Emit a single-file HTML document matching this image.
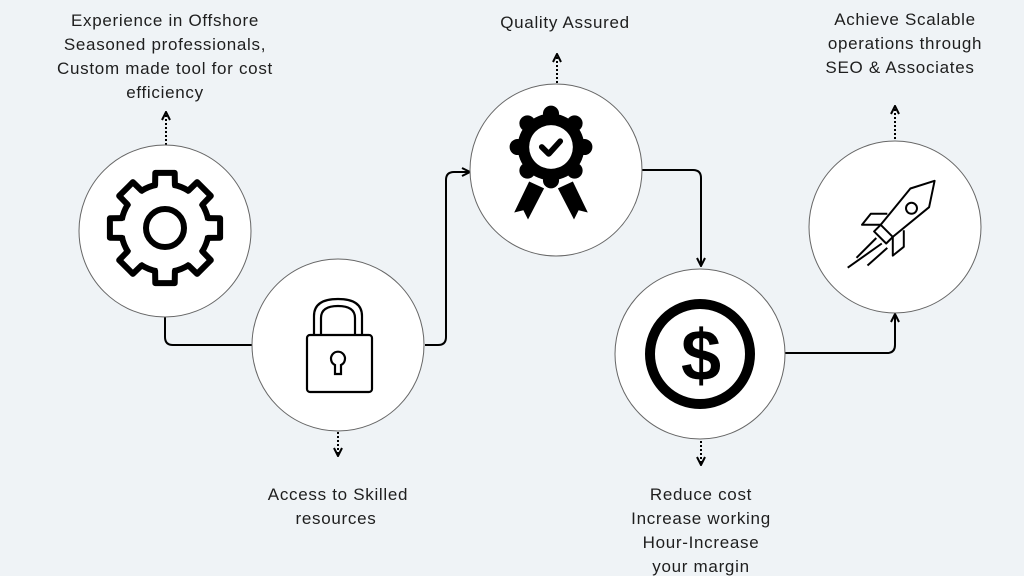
<!DOCTYPE html>
<html><head><style>
html,body{margin:0;padding:0;background:#eff3f6;}
svg{display:block;}
text{font-family:"Liberation Sans",sans-serif;font-size:17px;letter-spacing:0.7px;fill:#1e1e1e;text-anchor:middle;}
</style></head><body>
<svg width="1024" height="576" viewBox="0 0 1024 576">
<defs>
<marker id="ah" viewBox="0 0 10 10" refX="9" refY="5" markerWidth="5" markerHeight="5" orient="auto"><path d="M1,1 L9,5 L1,9" fill="none" stroke="#000" stroke-width="2"/></marker>
<g id="tooth">
<polygon points="39.3,-7.6 56.4,-7.9 56.4,7.9 39.3,7.6" fill="#fff"/>
<polyline points="42.9,-9.9 55.1,-9.7 55.1,9.7 42.9,9.9" fill="none" stroke="#000" stroke-width="6" stroke-linejoin="round" stroke-linecap="round"/>
</g>
</defs>
<rect width="1024" height="576" fill="#eff3f6"/>
<!-- connectors -->
<g fill="none" stroke="#000" stroke-width="2">
<path d="M165,316 V337 Q165,345 173,345 H253"/>
<path d="M425,345 H438 Q446,345 446,337 V180 Q446,172 454,172 H470" marker-end="url(#ah)"/>
<path d="M641,170 H693 Q701,170 701,178 V266" marker-end="url(#ah)"/>
<path d="M783,353 H887 Q895,353 895,345 V314" marker-end="url(#ah)"/>
</g>
<g fill="none" stroke="#000" stroke-width="2" stroke-dasharray="2,2">
<path d="M166,145 V112" marker-end="url(#ah)"/>
<path d="M338,432 V456" marker-end="url(#ah)"/>
<path d="M557,83 V54" marker-end="url(#ah)"/>
<path d="M701,441 V465" marker-end="url(#ah)"/>
<path d="M895,143 V106" marker-end="url(#ah)"/>
</g>
<!-- circles -->
<g fill="#fff" stroke="#666" stroke-width="1">
<circle cx="165" cy="231" r="86"/>
<circle cx="338" cy="345" r="86"/>
<circle cx="556" cy="170" r="86"/>
<circle cx="700" cy="354" r="85"/>
<circle cx="895" cy="227" r="86"/>
</g>
<!-- gear -->
<g transform="translate(165,228)">
<circle r="44" fill="none" stroke="#000" stroke-width="6"/>
<use href="#tooth" transform="rotate(0)"/>
<use href="#tooth" transform="rotate(45)"/>
<use href="#tooth" transform="rotate(90)"/>
<use href="#tooth" transform="rotate(135)"/>
<use href="#tooth" transform="rotate(180)"/>
<use href="#tooth" transform="rotate(225)"/>
<use href="#tooth" transform="rotate(270)"/>
<use href="#tooth" transform="rotate(315)"/>
<circle r="19" fill="none" stroke="#000" stroke-width="6"/>
</g>
<!-- lock -->
<g fill="none" stroke="#000" stroke-width="2.2">
<path d="M314,335 V316 Q314,299 338,299 Q362,299 362,316 V335"/>
<path d="M321,335 V318 Q321,306 338,306 Q355,306 355,318 V335"/>
<rect x="307" y="335" width="65" height="57" rx="3"/>
<path d="M335,374 V365 A7,7 0 1 1 341,365 V374 Z"/>
</g>
<!-- award -->
<g transform="translate(551,147) scale(1.15)">
<circle r="29" fill="#000"/>
<g fill="#000">
<circle cx="0" cy="-29" r="7"/><circle cx="0" cy="29" r="7"/><circle cx="-29" cy="0" r="7"/><circle cx="29" cy="0" r="7"/>
<circle cx="-20.5" cy="-20.5" r="7"/><circle cx="20.5" cy="-20.5" r="7"/><circle cx="-20.5" cy="20.5" r="7"/><circle cx="20.5" cy="20.5" r="7"/>
</g>
<circle r="19" fill="#fff"/>
<path d="M-8,0 L-2,6 L8,-5" fill="none" stroke="#000" stroke-width="5" stroke-linecap="round" stroke-linejoin="round"/>
<path d="M-19,30 L-32,57 L-24,55 L-20,63 L-6,36 Z" fill="#000"/>
<path d="M19,30 L32,57 L24,55 L20,63 L6,36 Z" fill="#000"/>
</g>
<!-- dollar -->
<circle cx="700" cy="354" r="50" fill="none" stroke="#000" stroke-width="10"/>
<text x="701" y="380" style="font-size:72px;font-weight:bold;fill:#000;letter-spacing:0">$</text>
<!-- rocket -->
<g fill="none" stroke="#000" stroke-width="1.8" stroke-linejoin="round" transform="translate(895,227) scale(1.1)">
<path d="M36,-42 L14,-35 L-13,-2 L-2,9 L31,-18 Z"/>
<circle cx="15" cy="-17" r="5"/>
<path d="M-7,-12 L-22,-12 L-30,-2 L-13,-2"/>
<path d="M8,3 L8,18 L-2,26 L-2,9"/>
<path d="M-13,-2 L-19,4 L-8,15 L-2,9"/>
<path d="M-17,10 L-35,28 M-12,15 L-43,37 M-7,19 L-25,35"/>
</g>
<!-- labels -->
<text x="165" y="26">Experience in Offshore</text>
<text x="165" y="50">Seasoned professionals,</text>
<text x="165" y="74">Custom made tool for cost</text>
<text x="165" y="98">efficiency</text>
<text x="565" y="28">Quality Assured</text>
<text x="905" y="25">Achieve Scalable</text>
<text x="905" y="49">operations through</text>
<text x="900" y="73">SEO &amp; Associates</text>
<text x="338" y="500">Access to Skilled</text>
<text x="336" y="524">resources</text>
<text x="701" y="500">Reduce cost</text>
<text x="701" y="524">Increase working</text>
<text x="701" y="548">Hour-Increase</text>
<text x="701" y="572">your margin</text>
</svg>
</body></html>
